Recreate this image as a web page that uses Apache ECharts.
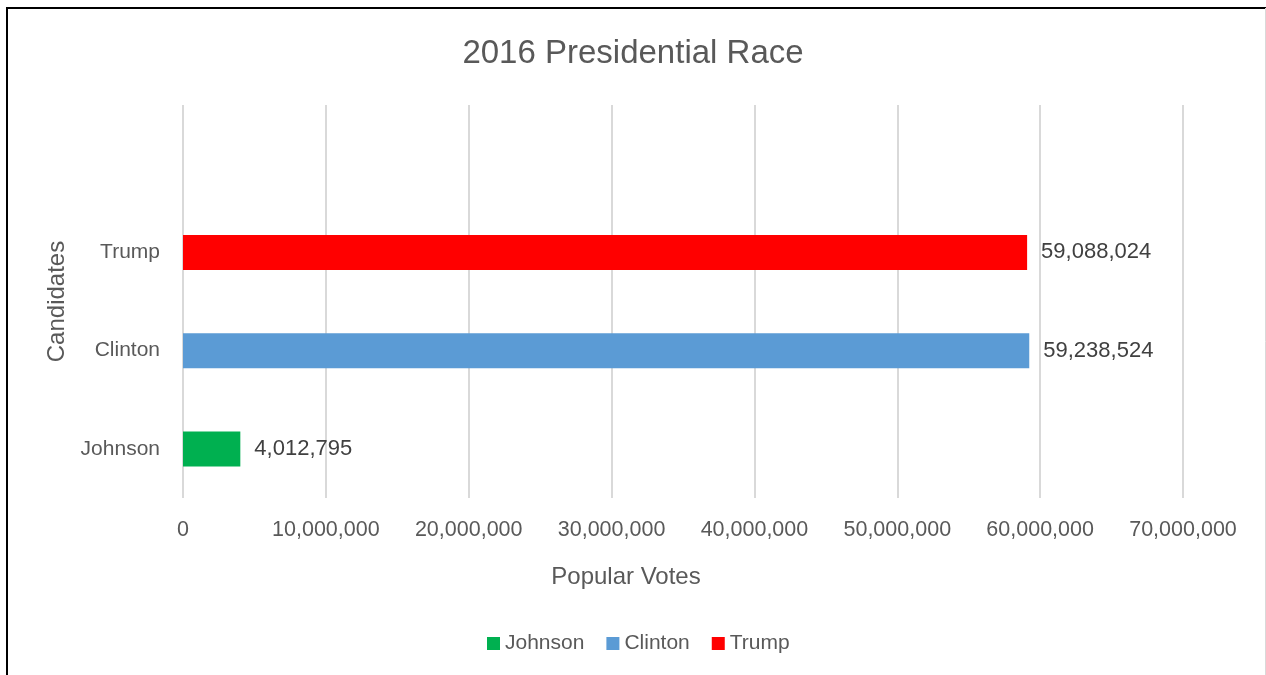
<!DOCTYPE html>
<html>
<head>
<meta charset="utf-8">
<script src="https://cdn.jsdelivr.net/npm/echarts@6/dist/echarts.min.js"></script>
<style>
html,body{margin:0;padding:0;background:#fff;}
#chart{width:1266px;height:675px;}
</style>
</head>
<body>
<div id="chart"></div>
<script>
const categories = ['Johnson', 'Clinton', 'Trump', ''];
const seriesNames = ['Johnson', 'Clinton', 'Trump'];
const johnsonVotes = [4012795, '-', '-', '-'];
const clintonVotes = ['-', 59238524, '-', '-'];
const trumpVotes = ['-', '-', 59088024, '-'];
const xTicks = [0, 10000000, 20000000, 30000000, 40000000, 50000000, 60000000, 70000000];
const colors = ['#00B050', '#5B9BD5', '#FF0000'];

const font = '"Liberation Sans", "DejaVu Sans", sans-serif';
const gray = '#595959';
const fmt = v => Number(v).toLocaleString('en-US');

const dataSets = [johnsonVotes, clintonVotes, trumpVotes];
const chart = echarts.init(document.getElementById('chart'));
chart.setOption({
  animation: false,
  backgroundColor: '#fff',
  textStyle: { fontFamily: font },
  title: {
    text: '2016 Presidential Race',
    left: 'center',
    top: 32,
    textStyle: { fontFamily: font, fontSize: 33, fontWeight: 'normal', color: gray }
  },
  legend: {
    data: seriesNames,
    left: 482,
    top: 628,
    itemWidth: 13,
    itemHeight: 13,
    itemGap: 22,
    icon: 'rect',
    textStyle: { fontFamily: font, fontSize: 21, color: gray }
  },
  grid: { left: 183, right: 83, top: 105, bottom: 177, containLabel: false },
  xAxis: {
    type: 'value',
    min: xTicks[0],
    max: xTicks[xTicks.length - 1],
    interval: xTicks[1] - xTicks[0],
    name: 'Popular Votes',
    nameLocation: 'middle',
    nameGap: 67,
    nameTextStyle: { fontFamily: font, fontSize: 24, color: gray, padding: [0, 114, 0, 0] },
    axisLine: { show: false },
    axisTick: { show: false },
    axisLabel: { fontFamily: font, fontSize: 21.5, color: gray, margin: 21, formatter: v => fmt(v) },
    splitLine: { show: true, lineStyle: { color: '#D9D9D9', width: 2 } }
  },
  yAxis: {
    type: 'category',
    data: categories,
    name: 'Candidates',
    nameLocation: 'middle',
    nameGap: 111,
    nameRotate: 90,
    nameTextStyle: { fontFamily: font, fontSize: 24, color: gray },
    axisLine: { show: false },
    axisTick: { show: false },
    axisLabel: { fontFamily: font, fontSize: 21, color: gray, margin: 23 }
  },
  series: seriesNames.map((name, i) => ({
    name: name,
    type: 'bar',
    stack: 'all',
    data: dataSets[i],
    barWidth: 35,
    itemStyle: { color: colors[i] },
    label: {
      show: true,
      position: 'right',
      distance: 14,
      fontFamily: font,
      fontSize: 22,
      color: '#404040',
      formatter: p => fmt(p.value)
    }
  })),
  graphic: [
    { type: 'line', shape: { x1: 7, y1: 8, x2: 7, y2: 675 }, style: { stroke: '#000', lineWidth: 2 } },
    { type: 'line', shape: { x1: 6, y1: 8, x2: 1266, y2: 8 }, style: { stroke: '#000', lineWidth: 2 } },
    { type: 'line', shape: { x1: 1265.5, y1: 8, x2: 1265.5, y2: 675 }, style: { stroke: '#D9D9D9', lineWidth: 1 } }
  ]
});
</script>
</body>
</html>
